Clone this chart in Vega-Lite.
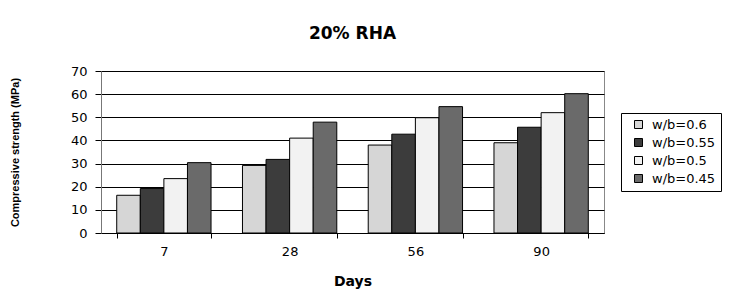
{
  "$schema": "https://vega.github.io/schema/vega-lite/v6.json",
  "autosize": "none",
  "width": 503,
  "height": 162,
  "padding": {"left": 101, "top": 71, "right": 129, "bottom": 56},
  "background": "white",
  "title": {"text": "20% RHA", "font": "DejaVu Sans", "fontSize": 17, "fontWeight": "bold", "color": "black", "anchor": "middle", "offset": 22},
  "data": {"values": [
    {"day": "7", "wb": "w/b=0.6", "s": 16.3},
    {"day": "7", "wb": "w/b=0.55", "s": 19.2},
    {"day": "7", "wb": "w/b=0.5", "s": 23.5},
    {"day": "7", "wb": "w/b=0.45", "s": 30.4},
    {"day": "28", "wb": "w/b=0.6", "s": 29.2},
    {"day": "28", "wb": "w/b=0.55", "s": 31.8},
    {"day": "28", "wb": "w/b=0.5", "s": 41.0},
    {"day": "28", "wb": "w/b=0.45", "s": 47.9},
    {"day": "56", "wb": "w/b=0.6", "s": 38.0},
    {"day": "56", "wb": "w/b=0.55", "s": 42.7},
    {"day": "56", "wb": "w/b=0.5", "s": 49.8},
    {"day": "56", "wb": "w/b=0.45", "s": 54.6},
    {"day": "90", "wb": "w/b=0.6", "s": 39.0},
    {"day": "90", "wb": "w/b=0.55", "s": 45.7},
    {"day": "90", "wb": "w/b=0.5", "s": 52.0},
    {"day": "90", "wb": "w/b=0.45", "s": 60.2}
  ]},
  "mark": {"type": "bar", "stroke": "black", "strokeWidth": 1},
  "encoding": {
    "x": {"field": "day", "type": "nominal", "sort": ["7", "28", "56", "90"],
      "scale": {"paddingInner": 0.25, "paddingOuter": 0.125},
      "axis": {"title": "Days", "titleFont": "DejaVu Sans", "titleFontSize": 14, "titleFontWeight": "bold", "titleColor": "black", "titlePadding": 16,
        "labelAngle": 0, "labelFont": "DejaVu Sans", "labelFontSize": 13, "labelColor": "black", "labelPadding": 7,
        "tickBand": "extent", "tickSize": 5, "tickColor": "black", "domainColor": "black", "grid": false}},
    "xOffset": {"field": "wb", "type": "nominal", "sort": ["w/b=0.6", "w/b=0.55", "w/b=0.5", "w/b=0.45"], "scale": {"paddingInner": 0, "paddingOuter": 0}},
    "y": {"field": "s", "type": "quantitative",
      "scale": {"domain": [0, 70], "nice": false},
      "axis": {"values": [0, 10, 20, 30, 40, 50, 60, 70], "title": "Compressive strength (MPa)", "titleFont": "Liberation Sans", "titleFontSize": 11, "titleFontWeight": "bold", "titleColor": "black", "titlePadding": 50,
        "labelFont": "DejaVu Sans", "labelFontSize": 13, "labelColor": "black", "labelPadding": 8,
        "tickSize": 6, "tickColor": "black", "domainColor": "#777777", "gridColor": "black", "gridOpacity": 1}},
    "color": {"field": "wb", "type": "nominal", "sort": ["w/b=0.6", "w/b=0.55", "w/b=0.5", "w/b=0.45"],
      "scale": {"domain": ["w/b=0.6", "w/b=0.55", "w/b=0.5", "w/b=0.45"], "range": ["#d6d6d6", "#3c3c3c", "#f2f2f2", "#6a6a6a"]},
      "legend": {"title": null, "orient": "none", "legendX": 520, "legendY": 42, "strokeColor": "black", "padding": 5,
        "symbolType": "square", "symbolSize": 64, "symbolStrokeColor": "black", "symbolStrokeWidth": 1, "symbolOffset": 6,
        "labelFont": "DejaVu Sans", "labelFontSize": 13, "labelColor": "black", "labelOffset": 7, "rowPadding": 4}}
  },
  "config": {"view": {"stroke": "#888888", "strokeWidth": 1}}
}
